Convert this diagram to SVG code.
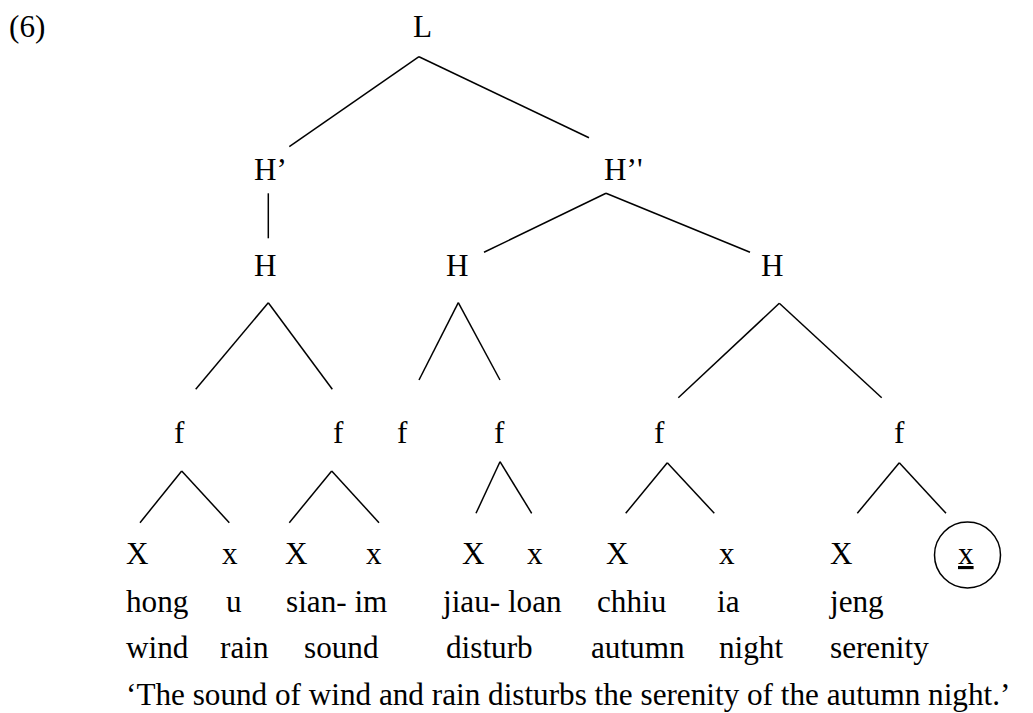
<svg xmlns="http://www.w3.org/2000/svg" width="1033" height="713" viewBox="0 0 1033 713">
<style>
text{font-family:'Liberation Serif',serif;font-size:31.2px;fill:#000}
.c line{stroke:#000;stroke-width:1.5;fill:none}
.ring{stroke:#000;stroke-width:1.5;fill:none}
</style>
<rect width="1033" height="713" fill="#fff"/>
<g font-family="Liberation Serif, serif">
<g id="label"><text x="9" y="37">(6)</text></g>
<g id="n-L"><text x="413" y="37">L</text></g>
<g id="n-H1p"><text x="254" y="180">H’</text></g>
<g id="n-H2p"><text x="604" y="180">H’'</text></g>
<g id="n-H-a"><text x="254" y="276">H</text></g>
<g id="n-H-b"><text x="446" y="276">H</text></g>
<g id="n-H-c"><text x="761" y="276">H</text></g>
<g id="n-f1"><text x="174" y="443">f</text></g>
<g id="n-f2"><text x="333" y="443">f</text></g>
<g id="n-f3"><text x="397" y="443">f</text></g>
<g id="n-f4"><text x="494" y="443">f</text></g>
<g id="n-f5"><text x="654" y="443">f</text></g>
<g id="n-f6"><text x="894" y="443">f</text></g>
<g id="n-X1"><text x="126" y="564">X</text></g>
<g id="n-x1"><text x="222" y="564">x</text></g>
<g id="n-X2"><text x="285" y="564">X</text></g>
<g id="n-x2"><text x="366" y="564">x</text></g>
<g id="n-X3"><text x="462" y="564">X</text></g>
<g id="n-x3"><text x="527" y="564">x</text></g>
<g id="n-X4"><text x="606" y="564">X</text></g>
<g id="n-x4"><text x="719" y="564">x</text></g>
<g id="n-X5"><text x="830" y="564">X</text></g>
<g id="n-x5"><circle class="ring" cx="967.5" cy="555" r="33"/><text x="958" y="564" text-decoration="underline">x</text></g>
<g id="gloss-syll">
<text x="126" y="612">hong</text>
<text x="226" y="612">u</text>
<text x="286" y="612">sian- im</text>
<text x="443" y="612">jiau- loan</text>
<text x="597" y="612">chhiu</text>
<text x="717" y="612">ia</text>
<text x="830" y="612">jeng</text>
</g>
<g id="gloss-words">
<text x="126" y="658">wind</text>
<text x="220" y="658">rain</text>
<text x="304" y="658">sound</text>
<text x="446" y="658">disturb</text>
<text x="591" y="658">autumn</text>
<text x="719" y="658">night</text>
<text x="830" y="658">serenity</text>
</g>
<g id="translation"><text x="126" y="705">‘The sound of wind and rain disturbs the serenity of the autumn night.’</text></g>
</g>
<g id="connectors" class="c">
<line x1="419" y1="56.7" x2="289.3" y2="146.7"/>
<line x1="419" y1="56.7" x2="589" y2="137.7"/>
<line x1="268.3" y1="193.3" x2="268.3" y2="238.3"/>
<line x1="606" y1="193.3" x2="484" y2="252.3"/>
<line x1="606" y1="193.3" x2="750" y2="252.3"/>
<line x1="268.3" y1="302.7" x2="195.7" y2="389.3"/>
<line x1="268.3" y1="302.7" x2="332.3" y2="389.3"/>
<line x1="458.3" y1="302.7" x2="419" y2="380"/>
<line x1="458.3" y1="302.7" x2="500" y2="380"/>
<line x1="779.3" y1="303.3" x2="678.3" y2="397.7"/>
<line x1="779.3" y1="303.3" x2="881.7" y2="397.7"/>
<line x1="181.7" y1="471" x2="140" y2="522.7"/>
<line x1="181.7" y1="471" x2="229.3" y2="522.7"/>
<line x1="331.7" y1="471" x2="289.3" y2="522.7"/>
<line x1="331.7" y1="471" x2="379" y2="522.7"/>
<line x1="500" y1="461.7" x2="476" y2="513.3"/>
<line x1="500" y1="461.7" x2="531.7" y2="513.3"/>
<line x1="667.3" y1="462.7" x2="625.7" y2="513.3"/>
<line x1="667.3" y1="462.7" x2="714.3" y2="513.3"/>
<line x1="899.3" y1="462.7" x2="857.3" y2="513.3"/>
<line x1="899.3" y1="462.7" x2="946" y2="513.3"/>
</g>
</svg>
